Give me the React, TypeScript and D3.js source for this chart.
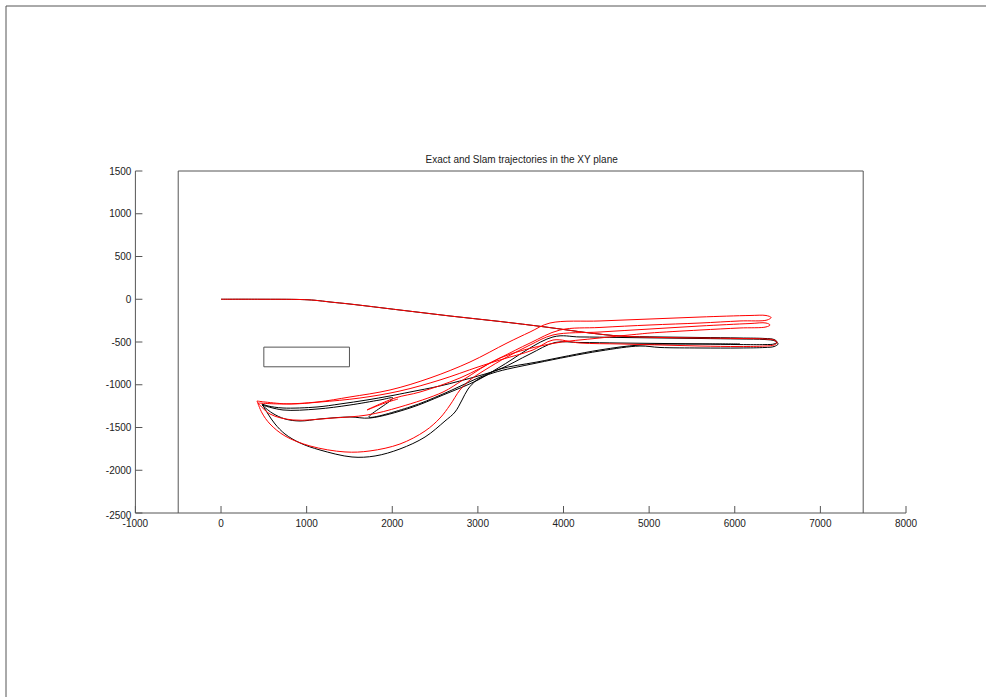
import React from "react";
import * as d3 from "d3";

type Pt = [number, number];

// Axis tick values
const xTicks = [-1000, 0, 1000, 2000, 3000, 4000, 5000, 6000, 7000, 8000];
const yTicks = [1500, 1000, 500, 0, -500, -1000, -1500, -2000, -2500];

// Environment outline and obstacle (world coordinates, mm)
const arena: Pt[] = [[-500, -2500], [-500, 1500], [7500, 1500], [7500, -2500]];
const obstacle: Pt[] = [[500, -560], [1500, -560], [1500, -790], [500, -790], [500, -560]];

// Exact trajectory, split into laps
const exactLap1: Pt[] = [
  [0, 0], [455, 0], [923, -3], [1098, -12], [1273, -32], [1506, -56], [2090, -126], [2675, -196],
  [3258, -260], [3784, -324], [4310, -395], [4660, -430], [5127, -441], [5594, -447], [6061, -453],
  [6353, -459], [6459, -471], [6494, -500], [6459, -523], [6353, -530], [6061, -530], [5594, -523],
  [5127, -517], [4660, -512], [4193, -506], [3901, -506], [3609, -640], [3258, -816], [3002, -898],
  [2558, -1014], [2207, -1085], [1974, -1131], [1705, -1178], [1390, -1225], [1121, -1260],
  [724, -1272], [549, -1248], [479, -1225],
];
const exactLap2: Pt[] = [
  [479, -1225], [549, -1342], [631, -1459], [747, -1576], [923, -1681], [1156, -1763], [1530, -1845],
  [1799, -1833], [2090, -1751], [2383, -1611], [2616, -1424], [2733, -1319], [2815, -1178],
  [2885, -1050], [2990, -944], [3177, -862], [3690, -745], [4426, -605], [4893, -547], [5127, -564],
  [5594, -570], [6061, -570], [6353, -564], [6459, -553], [6506, -523], [6471, -488], [6353, -471],
  [6061, -465], [5594, -459], [5127, -453], [4660, -447], [4193, -441], [3877, -441], [3258, -792],
  [3002, -944], [2593, -1120], [2207, -1272], [1740, -1389], [1506, -1377], [1156, -1400],
  [923, -1424], [747, -1400], [596, -1330], [479, -1237],
];
const exactLap3: Pt[] = [
  [479, -1237], [724, -1295], [1121, -1284], [1506, -1237], [1857, -1178], [2009, -1155],
  [1728, -1377], [2207, -1260], [2593, -1108], [3002, -921], [3258, -816], [3690, -734],
  [4426, -593], [4893, -535], [5594, -523], [6061, -523],
];

// SLAM-estimated trajectory, split into laps
const slamLap1: Pt[] = [
  [0, 0], [455, 0], [923, -3], [1098, -12], [1273, -32], [1506, -56], [2090, -126], [2675, -196],
  [3258, -260], [3784, -324], [4310, -395], [4660, -430], [5127, -447], [5594, -453], [6061, -459],
  [6353, -465], [6459, -477], [6494, -506], [6459, -535], [6353, -547], [6061, -553], [5594, -547],
  [5127, -535], [4660, -523], [4193, -512], [3877, -477], [3644, -593], [3258, -710], [3002, -792],
  [2558, -944], [2090, -1073], [1623, -1155], [1156, -1202], [806, -1225], [514, -1202], [420, -1190],
];
const slamLap2: Pt[] = [
  [420, -1190], [479, -1330], [572, -1459], [747, -1599], [1039, -1716], [1448, -1786], [1740, -1774],
  [2090, -1693], [2383, -1541], [2558, -1389], [2675, -1237], [2791, -1061], [2908, -944],
  [3083, -827], [3340, -675], [3609, -535], [3877, -418], [4426, -383], [5010, -348], [5594, -313],
  [6178, -284], [6365, -278], [6412, -301], [6365, -324], [6061, -336], [5594, -360], [5010, -395],
  [4893, -406], [4426, -453], [3842, -523], [3258, -687], [2826, -944], [2593, -1085], [2090, -1260],
  [1705, -1354], [1308, -1389], [841, -1412], [572, -1342], [432, -1213],
];
const slamLap3: Pt[] = [
  [432, -1213], [724, -1225], [1121, -1202], [1506, -1143], [1974, -1061], [2441, -921],
  [2908, -734], [3340, -512], [3609, -383], [3842, -278], [4426, -254], [5010, -231], [5594, -208],
  [6178, -190], [6365, -190], [6424, -213], [6377, -243], [6061, -254], [5594, -278], [5010, -301],
  [4426, -330], [3958, -360], [3609, -512], [3258, -687], [2791, -921], [2324, -1085],
  [2032, -1155], [1705, -1295], [1915, -1213], [2067, -1167],
];

const exactLaps = [exactLap1, exactLap2, exactLap3];
const slamLaps = [slamLap1, slamLap2, slamLap3];

const W = 986;
const H = 697;
const axisColor = "#555";
const font = "'Liberation Sans', Arial, sans-serif";

export default function App() {
  const x = d3.scaleLinear().domain([-1000, 8000]).range([135.4, 906]);
  const y = d3.scaleLinear().domain([-2500, 1500]).range([513, 171]);
  const line = d3
    .line<Pt>()
    .x((d) => x(d[0]))
    .y((d) => y(d[1]))
    .curve(d3.curveCatmullRom.alpha(0.5));
  const poly = d3
    .line<Pt>()
    .x((d) => x(d[0]))
    .y((d) => y(d[1]));

  return (
    <svg
      width={W}
      height={H}
      style={{ position: "absolute", left: 0, top: 0, background: "#fff" }}
    >
      {/* figure frame */}
      <line x1={6} y1={6} x2={W} y2={6} stroke={axisColor} strokeWidth={1} />
      <line x1={6} y1={6} x2={6} y2={H} stroke={axisColor} strokeWidth={1} />

      <text
        x={(x(-1000) + x(8000)) / 2 + 1}
        y={163}
        fontSize={10}
        fontFamily={font}
        textAnchor="middle"
        fill="#222"
      >
        Exact and Slam trajectories in the XY plane
      </text>

      {/* arena outline */}
      <path d={poly(arena) ?? ""} fill="none" stroke={axisColor} strokeWidth={1} />
      {/* obstacle */}
      <path d={poly(obstacle) ?? ""} fill="none" stroke={axisColor} strokeWidth={1} />

      {/* y axis */}
      <line x1={x(-1000)} x2={x(-1000)} y1={y(1500)} y2={y(-2500)} stroke={axisColor} strokeWidth={1} />
      {yTicks.map((t) => (
        <g key={"y" + t}>
          <line x1={x(-1000)} x2={x(-1000) + 7} y1={y(t)} y2={y(t)} stroke={axisColor} strokeWidth={1} />
          <text
            x={x(-1000) - 4}
            y={y(t) + (t === -2500 ? 6 : 3.5)}
            fontSize={10}
            fontFamily={font}
            textAnchor="end"
            fill="#222"
          >
            {t}
          </text>
        </g>
      ))}

      {/* x axis */}
      <line x1={x(-1000)} x2={x(8000)} y1={y(-2500)} y2={y(-2500)} stroke={axisColor} strokeWidth={1} />
      {xTicks.map((t) => (
        <g key={"x" + t}>
          <line x1={x(t)} x2={x(t)} y1={y(-2500)} y2={y(-2500) - 7} stroke={axisColor} strokeWidth={1} />
          <text
            x={x(t)}
            y={y(-2500) + 14}
            fontSize={10}
            fontFamily={font}
            textAnchor="middle"
            fill="#222"
          >
            {t}
          </text>
        </g>
      ))}

      {/* trajectories */}
      {exactLaps.map((lap, i) => (
        <path key={"e" + i} d={line(lap) ?? ""} fill="none" stroke="#000" strokeWidth={1} />
      ))}
      {slamLaps.map((lap, i) => (
        <path key={"s" + i} d={line(lap) ?? ""} fill="none" stroke="#ff0000" strokeWidth={1} />
      ))}
    </svg>
  );
}
